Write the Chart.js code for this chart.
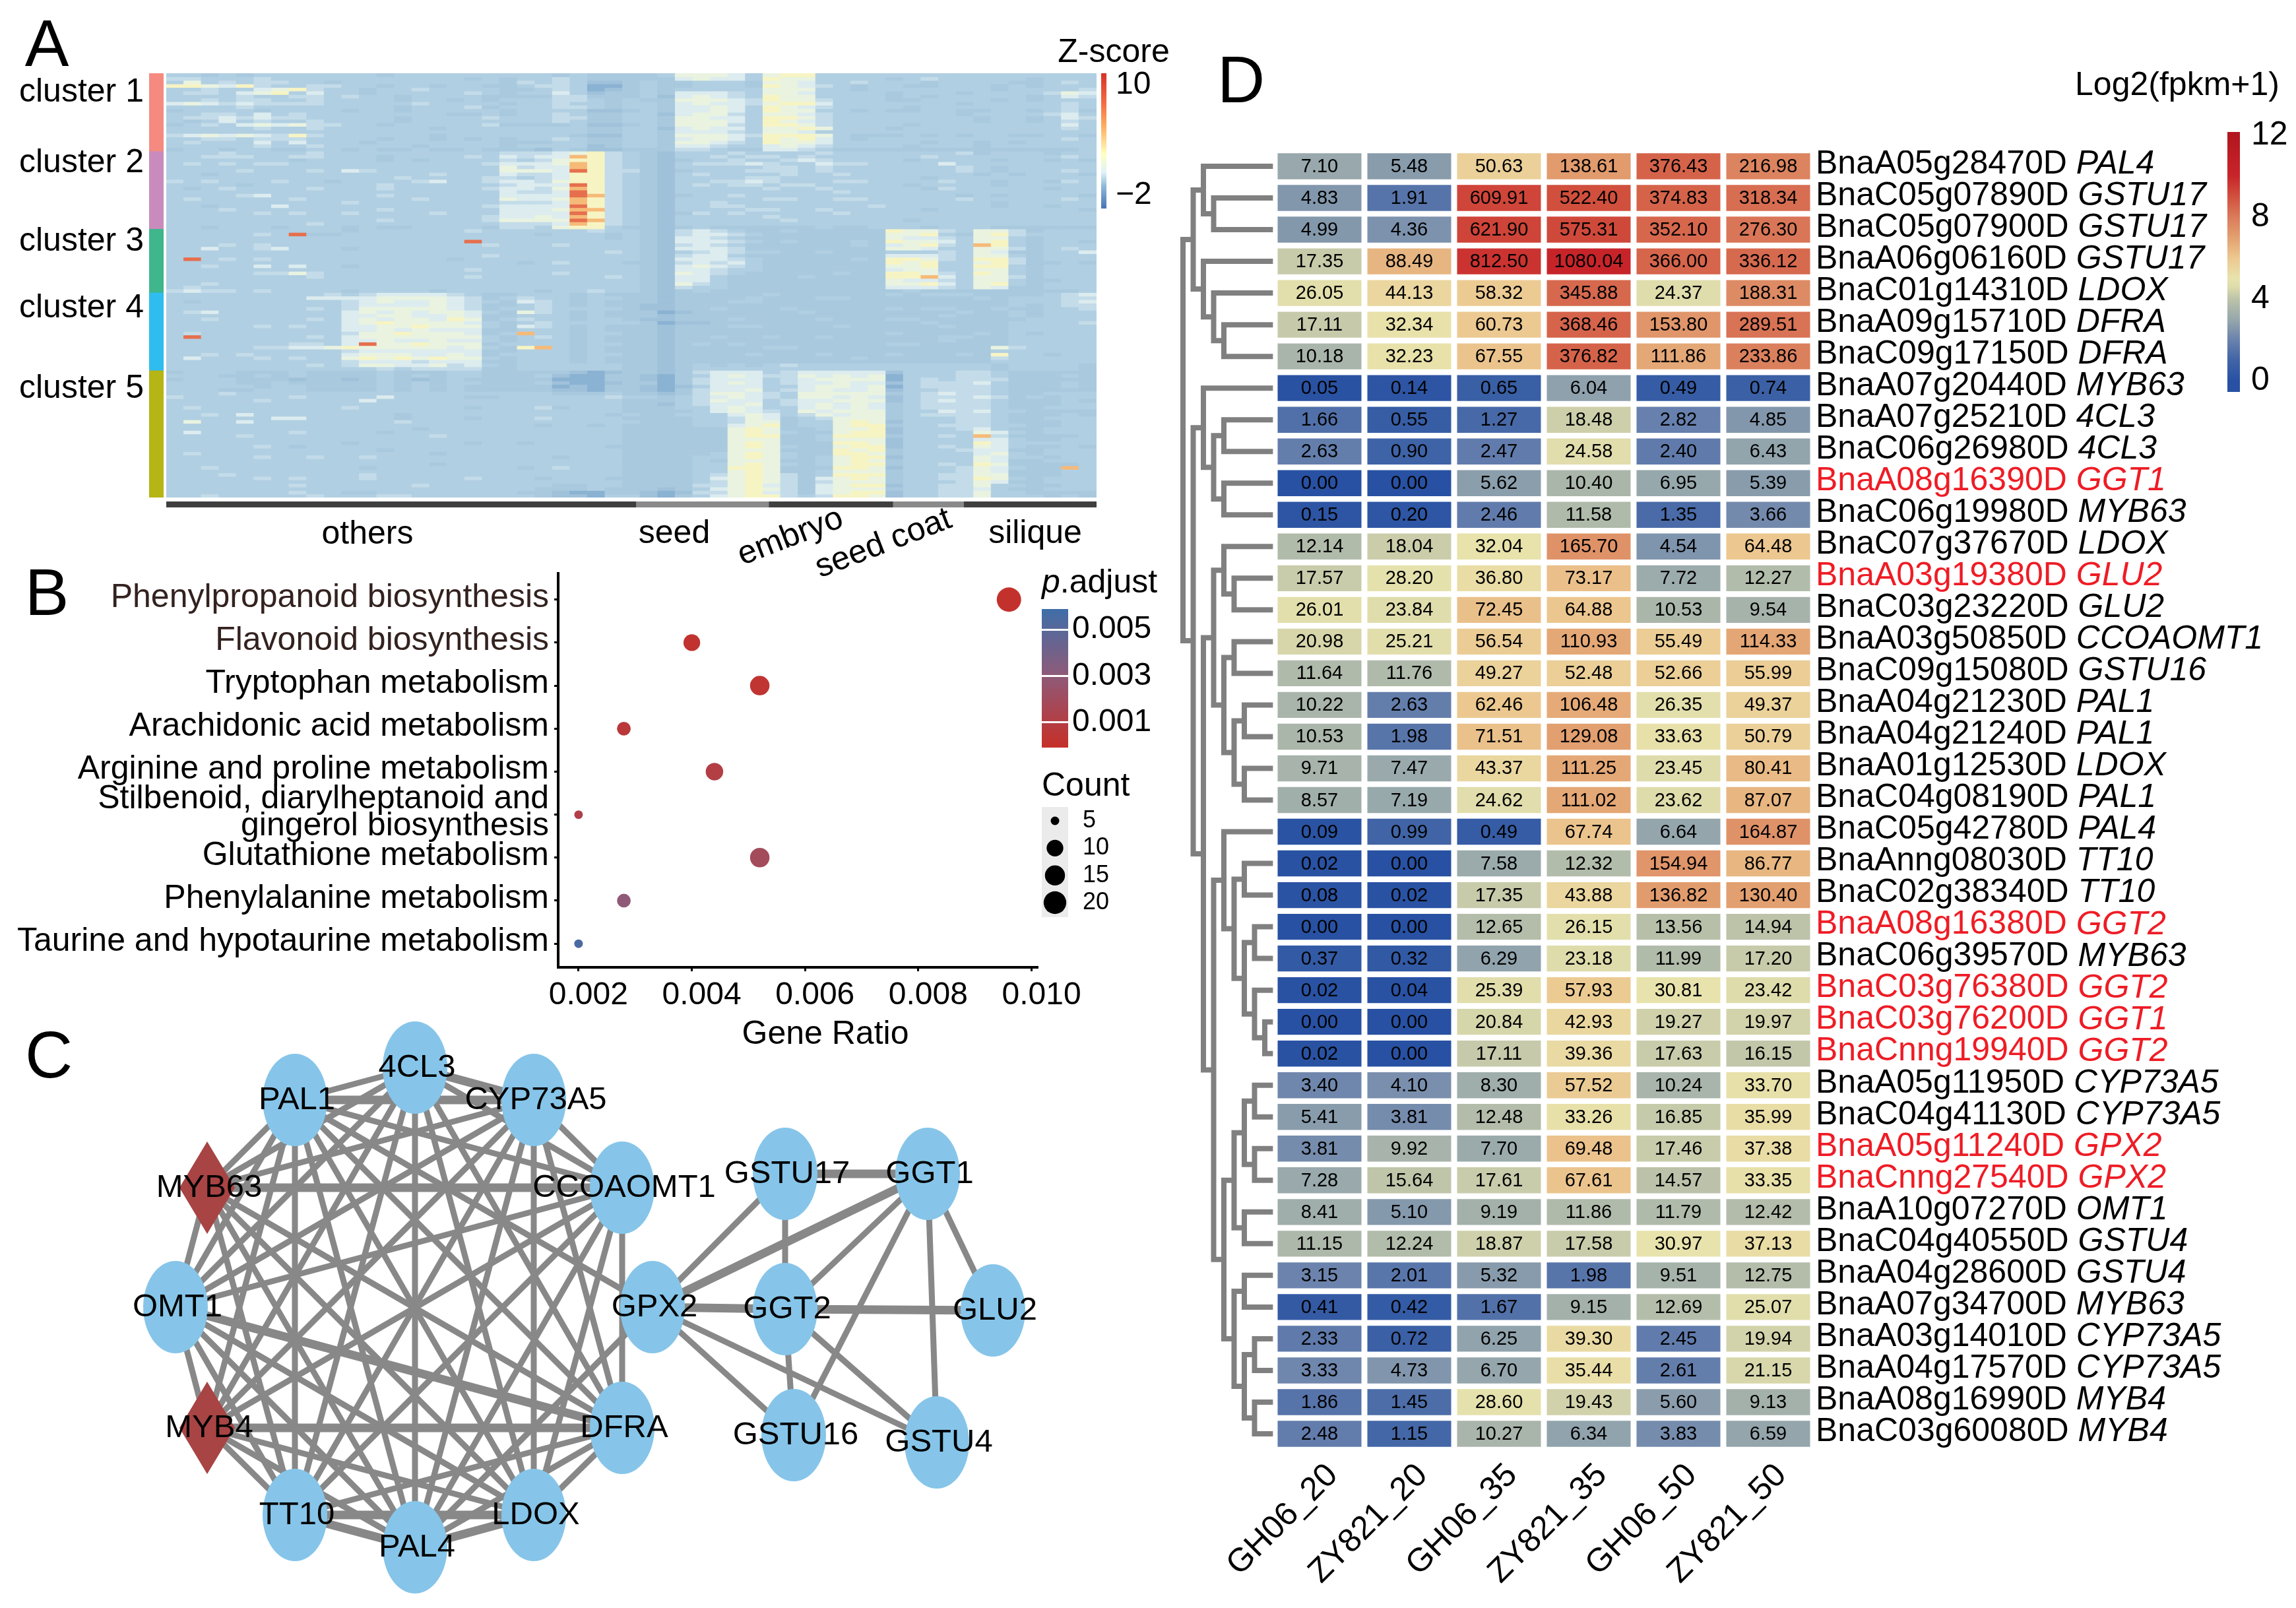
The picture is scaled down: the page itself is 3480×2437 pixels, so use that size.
<!DOCTYPE html>
<html>
<head>
<meta charset="utf-8">
<script src="https://cdn.jsdelivr.net/npm/chart.js@4"></script>
<style>
html, body { margin: 0; background: #fff; }
#page { position: relative; width: 3480px; height: 2437px; overflow: hidden; background: #fff; }
#page canvas { position: absolute; }
.lbl { position: absolute; font-family: "Liberation Sans", Arial, sans-serif; color: #000; white-space: nowrap; line-height: 1; }
</style>
</head>
<body>
<div id="page"></div>
<script>
// ---- panel A: one string per row band, one digit per column band (0 dark blue .. 9 red)
const heatRows = [
"3323233333 3323333333 3323222236 6653677333 3333333333 333",
"4433343333 3333333232 3343222225 6553766333 3234333332 333",
"3634344332 3333333332 4343112322 3332665334 3332333322 343",
"7765743344 3323323322 3443002322 3332765432 3322333232 333",
"3343356743 3233433332 2343012323 3333666332 3333333233 334",
"3443567353 3233333432 3353122325 5543665333 3233323333 465",
"3333433443 4332333322 2244222315 6543766333 3232333332 354",
"3343443343 3332332323 3344323226 6654766433 3223333232 333",
"5654544443 3333433332 3343323325 6554677533 3333323333 343",
"3333433333 3332333423 3344323325 5653765433 3323333333 343",
"2333323333 2332333332 3333112325 5653766332 3223322332 342",
"3344353433 3333332232 3343223315 6643665433 3333323333 453",
"3445454433 3332333343 3344223326 6553776433 3333332332 354",
"3235343343 3332333333 3343223326 6653765433 3333332332 343",
"2343565644 3323333342 2223112326 6643776433 3323333333 353",
"3333343343 3333323333 3333223315 6553667633 3233333333 343",
"3333333333 3333333333 3333223325 5543665333 3333333333 333",
"4565654743 3333323333 3332113326 6654777632 2232323322 332",
"3344344433 3323323232 3343223325 6653767532 3333333333 343",
"3433353533 3233333332 2233223326 6543766533 3332332323 333",
"3333343343 3333233332 3333123325 5433565433 3323332333 333",
"2332332233 2322322322 2132112224 4322554322 2222222222 223",
"3334333343 3333333334 4456743213 3343333433 3333342333 233",
"3344433443 3323333435 4558743213 3434434333 3334333333 343",
"3333333233 3323233334 3467743212 3343345433 3323333233 232",
"3434344333 3333333345 5568743213 4445433544 3333533333 333",
"3333333333 3333333336 4558743213 3333443433 3333343233 333",
"3333433343 5433333336 6659744212 3334443433 3333343233 343",
"3323333333 3333343335 4457743213 4333343343 3333332323 332",
"3333333333 3334333344 3457743213 3334433333 3332333333 333",
"4343334332 3333453345 5467743213 3445433344 3333433233 243",
"3333233333 3343333334 5559743213 4344344333 3323333233 333",
"3234333343 3343333345 5468743213 3333433433 3332433333 233",
"3333333333 3333333335 4459743213 3333333343 3333333333 333",
"3333453333 3343333335 5559843212 3343333333 3333323233 332",
"3433333433 3333433336 5568743213 3333443344 3333343333 343",
"3333333333 4333333334 4458743213 3433333333 3333333233 333",
"3323335333 3333333345 5559743213 3443333333 4333333233 233",
"3334333333 3343333335 5568843213 3334433433 3332333333 332",
"3333343433 4333343335 5559743212 4343333343 3333333333 333",
"3333333333 3333333345 5658743213 3333433333 3333333333 333",
"3333333333 3343333346 6669843213 3333343333 3323333333 333",
"3333333343 3333333334 4458743213 3333333333 3333333333 333",
"3323332333 2322333324 4367732212 3222222322 3332333222 222",
"3333333333 2333333433 3333433214 5432232222 2766436642 333",
"3333343922 3333333333 3233323214 5543222222 2667326743 333",
"3333333333 3333333333 3333323215 5432222222 2655436632 333",
"3333333333 3333333933 3333333215 5543232223 2766536732 332",
"3334343333 3333333343 3343333214 5432222223 2567438732 333",
"3353345333 2333333333 3333333215 5542222222 2665336642 343",
"3333333333 3333333333 3333343213 4543322322 2333436522 335",
"3333333333 3333333343 3333333214 5532222222 2555436632 333",
"3934343333 3333332333 3333333215 5543222223 2776437742 333",
"3333333333 3333333333 2343332214 5453222222 2767336742 232",
"3343353533 2333333333 3333333215 6543222222 2667337732 333",
"3333333333 3333333433 3333333215 5433222222 2566336632 333",
"3333344643 3333333333 3343333216 5432222232 2776437632 333",
"3333333343 3333333433 3333343215 5322223222 2778536642 333",
"3333333333 3333333333 3333333215 5322222222 2655436632 233",
"3343333333 3333333333 3333333216 4322222222 2667536732 333",
"3433333333 3333333333 3333333214 3322222222 2555436522 333",
"4544343333 2333323333 3233433212 3222222222 2232222222 223",
"3333333334 3455554322 3332322212 2222322222 2323332222 345",
"3333333355 5566665423 4332332212 2223222332 2222223233 344",
"3233333333 4565565432 5432322212 2233222222 2222222233 345",
"3333333333 4555565422 3432322112 2222222222 2222222232 344",
"3333333343 4666665423 3433332112 2322232222 2323322322 334",
"3453333333 5656566532 6432322201 2222223222 2222232232 333",
"3333333333 5566556522 3332322212 2222222222 2222322232 333",
"3343333343 5656657623 4332332112 2232222322 2332222223 333",
"3333333333 5676666532 3433333201 1222222222 2223222233 334",
"3333343433 5566766632 5432322212 2233222232 2222322233 333",
"3333333333 5565655522 3332322212 2222222222 2222222233 333",
"3433333333 4667666523 8332332212 2222222222 2322223232 333",
"3933333343 5666666632 3432322212 2322322322 2222332233 333",
"3333333333 5565565532 3332322212 2222222222 2222322233 333",
"3333333443 5966766623 3332332212 3232222222 2332222233 333",
"3333344556 7666665632 7832322212 2222332222 2222222643 333",
"3333333333 4555555522 3332322212 2222222222 2222222333 333",
"3343433333 5666556523 3332332212 2223222322 2322232733 233",
"3533343433 6767676632 3332322212 2222222223 2222222433 333",
"3333333333 4555455522 3332322212 2222222222 2222222333 333",
"3333333343 4665564532 3333332212 3232343333 3333333233 332",
"3333333333 3343444422 3333332212 3333333333 3333333233 332",
"2333222322 2232223322 2221012212 4555345555 5133344322 222",
"3332232322 2232323322 2310022102 3565446565 6033344322 232",
"2333222122 1232123222 2200022102 4555345666 6034344422 222",
"3333223222 2232323322 2310012202 4565345565 5134445322 232",
"3333323322 2232323222 2201022101 3555335665 6034444322 232",
"3332233322 2232323222 2211022102 4556345655 6133444322 222",
"3334333333 3333333333 3322232212 4665436666 6234544322 333",
"4333333433 3353333223 3333343323 4565436656 5134445423 233",
"3333343333 3533333333 3333332223 4655345566 6134544322 232",
"3333333333 3333333333 3333332213 4556345656 5234444322 233",
"3433333333 4333333233 3423332223 3565335656 5234444322 333",
"3333333333 3333333333 3333332222 3565436566 6233545332 222",
"3343533333 3332333333 3333323223 3356534656 6234444322 232",
"3333335533 3332333233 3433332222 3346523466 6233344322 333",
"3633533333 3334333333 3333333222 3346623367 6133344322 233",
"3333333333 3333333333 3233232222 3356723367 7233444332 233",
"3333333333 3333233333 3333332222 2267622366 7133345322 333",
"3533333433 3323333333 3333332222 2267632267 7133336532 333",
"3333433333 3333343333 3333332222 2267722377 7233438422 223",
"3333333333 3333333333 3333332222 2266622366 6133335532 233",
"3333333333 2333333233 2333332222 2267622277 6133337533 333",
"3333343233 3333333333 3333322222 2267632267 7133436532 232",
"3333333333 3323333333 3333332222 2266622276 7233345522 333",
"3433333333 3333323333 3333332222 2367632277 6233335632 333",
"3333343343 3433333333 3323332222 3367632367 7133336533 233",
"3333333333 3333333333 3333332222 3266622367 6233336522 333",
"3333333333 3333323333 3333332222 3367632367 7233437622 223",
"3343333333 3233333333 2343332222 3377622277 6133346532 283",
"3333333333 3333333333 3333332222 3367622366 6233346522 233",
"3334333333 3433333333 3333332222 3467642377 7233446622 233",
"3333343433 3433333433 3233322222 3567642567 6233447632 333",
"3333333333 3333333333 3333332222 3467642466 6233346522 333",
"3333333433 3333433333 3322332222 4467542567 7133446332 233",
"3333333333 3333333333 3222322212 3567642566 6233445322 333",
"3333333433 2233333333 2210022101 4467542567 7133446332 222",
"3343333343 3344333333 3211033102 3567743477 6133446333 232"
].map(r => r.replace(/ /g, ""));
const heatColors = ["#8ab2d3", "#a0c1da", "#a9c9de", "#b1cfe2", "#c4dce9", "#dcecef", "#e9f3e0", "#f7f4c4", "#f6ba78", "#e66f4d"];
const clusterNames = ["cluster 1", "cluster 2", "cluster 3", "cluster 4", "cluster 5"];
const clusterSizes = [22, 22, 18, 22, 36];
const clusterColors = ["#f58b80", "#c98bbd", "#3fb68b", "#2fbcee", "#b5b515"];
const tissueNames = ["others", "seed", "embryo", "seed coat", "silique"];
const tissueSizes = [53, 15, 14, 8, 15];
const tissueColors = ["#3f3f3f", "#8a8a8a", "#3f3f3f", "#8a8a8a", "#3f3f3f"];

// ---- panel B
const pathways = ["Phenylpropanoid biosynthesis", "Flavonoid biosynthesis", "Tryptophan metabolism",
  "Arachidonic acid metabolism", "Arginine and proline metabolism",
  ["Stilbenoid, diarylheptanoid and", "gingerol biosynthesis"], "Glutathione metabolism",
  "Phenylalanine metabolism", "Taurine and hypotaurine metabolism"];
const geneRatio = [0.0096, 0.0040, 0.0052, 0.0028, 0.0044, 0.0020, 0.0052, 0.0028, 0.0020];
const geneCount = [24, 10, 14, 7, 11, 5, 14, 7, 5];
const pAdjust = [0.0001, 0.0002, 0.0003, 0.0006, 0.0010, 0.0011, 0.0019, 0.0030, 0.0055];
const ratioTicks = [0.002, 0.004, 0.006, 0.008, 0.010];
const pTicks = [0.001, 0.003, 0.005];
const countTicks = [5, 10, 15, 20];

// ---- panel C
const nodeNames = ["4CL3", "PAL1", "CYP73A5", "MYB63", "CCOAOMT1", "OMT1", "GPX2", "MYB4", "DFRA", "TT10", "LDOX", "PAL4",
  "GSTU17", "GGT1", "GGT2", "GLU2", "GSTU16", "GSTU4"];
const nodeX = [629, 447, 809, 314, 943, 266, 989, 314, 943, 447, 809, 629, 1190, 1406, 1190, 1505, 1203, 1420];
const nodeY = [1618, 1667, 1667, 1800, 1800, 1981, 1981, 2164, 2164, 2296, 2296, 2345, 1779, 1779, 1984, 1986, 2175, 2186];
const tfNodes = ["MYB63", "MYB4"];
const ringNodes = nodeNames.slice(0, 12);
const ringMissing = ["OMT1-GPX2", "MYB63-GPX2", "GPX2-MYB4", "4CL3-GPX2", "CYP73A5-GPX2", "CCOAOMT1-GPX2", "GPX2-DFRA", "GPX2-TT10", "GPX2-LDOX", "MYB63-MYB4"];
const sideEdges = ["GPX2-GSTU17", "GSTU17-GGT2", "GGT1-GGT2", "GGT1-GSTU16", "GGT1-GSTU4", "GGT1-GLU2", "GGT2-GSTU16", "GGT2-GSTU4", "GPX2-GSTU16", "GPX2-GSTU4", "GPX2-GGT1", "GPX2-GGT2", "GGT2-GLU2", "GSTU17-GGT1"];
const thickEdges = ["MYB63-CCOAOMT1", "PAL1-CYP73A5", "MYB4-DFRA", "TT10-LDOX", "OMT1-CCOAOMT1", "OMT1-DFRA", "LDOX-PAL4", "TT10-PAL4", "PAL1-4CL3", "4CL3-CYP73A5", "GSTU17-GGT1", "GPX2-GGT2", "GGT2-GLU2", "GPX2-GGT1"];

// ---- panel D
const samples = ["GH06_20", "ZY821_20", "GH06_35", "ZY821_35", "GH06_50", "ZY821_50"];
const geneIds = ["BnaA05g28470D", "BnaC05g07890D", "BnaC05g07900D", "BnaA06g06160D", "BnaC01g14310D", "BnaA09g15710D", "BnaC09g17150D", "BnaA07g20440D", "BnaA07g25210D", "BnaC06g26980D", "BnaA08g16390D", "BnaC06g19980D", "BnaC07g37670D", "BnaA03g19380D", "BnaC03g23220D", "BnaA03g50850D", "BnaC09g15080D", "BnaA04g21230D", "BnaA04g21240D", "BnaA01g12530D", "BnaC04g08190D", "BnaC05g42780D", "BnaAnng08030D", "BnaC02g38340D", "BnaA08g16380D", "BnaC06g39570D", "BnaC03g76380D", "BnaC03g76200D", "BnaCnng19940D", "BnaA05g11950D", "BnaC04g41130D", "BnaA05g11240D", "BnaCnng27540D", "BnaA10g07270D", "BnaC04g40550D", "BnaA04g28600D", "BnaA07g34700D", "BnaA03g14010D", "BnaA04g17570D", "BnaA08g16990D", "BnaC03g60080D"];
const geneNames = ["PAL4", "GSTU17", "GSTU17", "GSTU17", "LDOX", "DFRA", "DFRA", "MYB63", "4CL3", "4CL3", "GGT1", "MYB63", "LDOX", "GLU2", "GLU2", "CCOAOMT1", "GSTU16", "PAL1", "PAL1", "LDOX", "PAL1", "PAL4", "TT10", "TT10", "GGT2", "MYB63", "GGT2", "GGT1", "GGT2", "CYP73A5", "CYP73A5", "GPX2", "GPX2", "OMT1", "GSTU4", "GSTU4", "MYB63", "CYP73A5", "CYP73A5", "MYB4", "MYB4"];
const redGenes = ["BnaA08g16390D", "BnaA03g19380D", "BnaA08g16380D", "BnaC03g76380D", "BnaC03g76200D", "BnaCnng19940D", "BnaA05g11240D", "BnaCnng27540D"];
const GH06_20 = [7.10, 4.83, 4.99, 17.35, 26.05, 17.11, 10.18, 0.05, 1.66, 2.63, 0.00, 0.15, 12.14, 17.57, 26.01, 20.98, 11.64, 10.22, 10.53, 9.71, 8.57, 0.09, 0.02, 0.08, 0.00, 0.37, 0.02, 0.00, 0.02, 3.40, 5.41, 3.81, 7.28, 8.41, 11.15, 3.15, 0.41, 2.33, 3.33, 1.86, 2.48];
const ZY821_20 = [5.48, 1.91, 4.36, 88.49, 44.13, 32.34, 32.23, 0.14, 0.55, 0.90, 0.00, 0.20, 18.04, 28.20, 23.84, 25.21, 11.76, 2.63, 1.98, 7.47, 7.19, 0.99, 0.00, 0.02, 0.00, 0.32, 0.04, 0.00, 0.00, 4.10, 3.81, 9.92, 15.64, 5.10, 12.24, 2.01, 0.42, 0.72, 4.73, 1.45, 1.15];
const GH06_35 = [50.63, 609.91, 621.90, 812.50, 58.32, 60.73, 67.55, 0.65, 1.27, 2.47, 5.62, 2.46, 32.04, 36.80, 72.45, 56.54, 49.27, 62.46, 71.51, 43.37, 24.62, 0.49, 7.58, 17.35, 12.65, 6.29, 25.39, 20.84, 17.11, 8.30, 12.48, 7.70, 17.61, 9.19, 18.87, 5.32, 1.67, 6.25, 6.70, 28.60, 10.27];
const ZY821_35 = [138.61, 522.40, 575.31, 1080.04, 345.88, 368.46, 376.82, 6.04, 18.48, 24.58, 10.40, 11.58, 165.70, 73.17, 64.88, 110.93, 52.48, 106.48, 129.08, 111.25, 111.02, 67.74, 12.32, 43.88, 26.15, 23.18, 57.93, 42.93, 39.36, 57.52, 33.26, 69.48, 67.61, 11.86, 17.58, 1.98, 9.15, 39.30, 35.44, 19.43, 6.34];
const GH06_50 = [376.43, 374.83, 352.10, 366.00, 24.37, 153.80, 111.86, 0.49, 2.82, 2.40, 6.95, 1.35, 4.54, 7.72, 10.53, 55.49, 52.66, 26.35, 33.63, 23.45, 23.62, 6.64, 154.94, 136.82, 13.56, 11.99, 30.81, 19.27, 17.63, 10.24, 16.85, 17.46, 14.57, 11.79, 30.97, 9.51, 12.69, 2.45, 2.61, 5.60, 3.83];
const ZY821_50 = [216.98, 318.34, 276.30, 336.12, 188.31, 289.51, 233.86, 0.74, 4.85, 6.43, 5.39, 3.66, 64.48, 12.27, 9.54, 114.33, 55.99, 49.37, 50.79, 80.41, 87.07, 164.87, 86.77, 130.40, 14.94, 17.20, 23.42, 19.97, 16.15, 33.70, 35.99, 37.38, 33.35, 12.42, 37.13, 12.75, 25.07, 19.94, 21.15, 9.13, 6.59];
const columns = [GH06_20, ZY821_20, GH06_35, ZY821_35, GH06_50, ZY821_50];
// nested merges: [depth, left, right], a plain number is a gene row
const dendroTree = [0,
  [1, [2, 0, [3, 1, 2]], [2, 3, [3, 4, [4, 5, 6]]]],
  [1, [2, 7, [3, [4, 8, 9], [4, 10, 11]]],
      [2, [3, [4, 12, [5, 13, 14]], [4, [5, 15, 16], [5, [6, 17, 18], [6, 19, 20]]]],
          [3, [4, 21, [5, [6, 22, 23], [6, [7, 24, 25], [7, 26, [8, 27, 28]]]]],
              [4, [5, [6, [7, 29, 30], [7, 31, 32]], [6, 33, 34]],
                  [5, [6, 35, 36], [6, [7, 37, 38], [7, 39, 40]]]]]]]];
const leafDepth = 8.8;

// colour ramps as [value, colour]
const fpkmStops = [[0, "#2851a3"], [1, "#4064a6"], [2, "#6a82ad"], [3, "#97a8ac"], [4, "#bcc3a9"], [4.6, "#dfdcac"], [5, "#e8e3ac"], [6, "#ecc890"], [7, "#e2a070"], [8, "#da7b5a"], [9, "#d1503e"], [10, "#c8252a"], [12, "#b2161f"]];
const zStops = [[-3.45, "#4575b4"], [-1, "#8fb9d8"], [0.5, "#e0f3f8"], [2.5, "#ffffbf"], [5.5, "#fdae61"], [8, "#f46d43"], [11.3, "#d73027"]];
const pStops = [[0, "#c5302a"], [0.003, "#8f5a78"], [0.0059, "#3f6ea8"]];

const FONT = '"Liberation Sans", Arial, sans-serif';
const page = document.getElementById("page");
Chart.defaults.font.family = FONT;
Chart.defaults.color = "#000";
Chart.defaults.animation = false;
Chart.defaults.responsive = false;
Chart.defaults.devicePixelRatio = 1;
Chart.defaults.layout.autoPadding = false;
Chart.defaults.plugins.legend.display = false;
Chart.defaults.plugins.tooltip.enabled = false;

function hex(c) { return [1, 3, 5].map(i => parseInt(c.substr(i, 2), 16)); }
function rampColor(stops, v) {
  if (v <= stops[0][0]) return stops[0][1];
  for (let i = 1; i < stops.length; i++) {
    if (v <= stops[i][0]) {
      const t = (v - stops[i - 1][0]) / (stops[i][0] - stops[i - 1][0]);
      const a = hex(stops[i - 1][1]), b = hex(stops[i][1]);
      return "rgb(" + a.map((x, k) => Math.round(x + (b[k] - x) * t)).join(",") + ")";
    }
  }
  return stops[stops.length - 1][1];
}
function makeCanvas(left, top, w, h) {
  const c = document.createElement("canvas");
  c.width = w; c.height = h;
  c.style.left = left + "px"; c.style.top = top + "px";
  c.style.width = w + "px"; c.style.height = h + "px";
  page.appendChild(c);
  return c;
}
function addText(html, x, y, o) {
  o = o || {};
  const d = document.createElement("div");
  d.className = "lbl";
  d.innerHTML = html;
  d.style.left = x + "px"; d.style.top = y + "px";
  d.style.fontSize = (o.size || 50) + "px";
  const shift = o.left ? "translate(0,-50%)" : "translate(-50%,-50%)";
  d.style.transform = shift + (o.rot ? " rotate(" + o.rot + "deg)" : "");
  page.appendChild(d);
}
function noPad(s) { s.paddingLeft = 0; s.paddingRight = 0; s.paddingTop = 0; s.paddingBottom = 0; }

// ---- A heatmap
new Chart(makeCanvas(252, 111, 1410, 643), {
  type: "bar",
  data: {
    labels: heatRows[0].split(""),
    datasets: heatRows.map((row, r) => ({
      data: row.split("").map(() => [r, r + 1]),
      backgroundColor: row.split("").map(c => heatColors[+c]),
      barPercentage: 1, categoryPercentage: 1, inflateAmount: 0.6
    }))
  },
  options: {
    scales: {
      x: { display: false, stacked: true },
      y: { display: false, min: 0, max: heatRows.length, reverse: true }
    }
  }
});
new Chart(makeCanvas(226, 111, 22, 643), {
  type: "bar",
  data: {
    labels: ["cluster"],
    datasets: clusterSizes.map((n, i) => ({ label: clusterNames[i], data: [n], backgroundColor: clusterColors[i], barPercentage: 1, categoryPercentage: 1 }))
  },
  options: {
    scales: {
      x: { display: false, stacked: true },
      y: { display: false, stacked: true, min: 0, max: heatRows.length, reverse: true }
    }
  }
});
new Chart(makeCanvas(252, 760, 1410, 9), {
  type: "bar",
  data: {
    labels: ["tissue"],
    datasets: tissueSizes.map((n, i) => ({ label: tissueNames[i], data: [n], backgroundColor: tissueColors[i], barPercentage: 1, categoryPercentage: 1 }))
  },
  options: {
    indexAxis: "y",
    scales: {
      x: { display: false, stacked: true, min: 0, max: 105 },
      y: { display: false, stacked: true }
    }
  }
});
[137, 244, 363, 464, 586].forEach((y, i) => addText(clusterNames[i], 29, y, { left: true }));
addText(tissueNames[0], 557, 807);
addText(tissueNames[1], 1022, 806);
addText(tissueNames[2], 1197, 811, { rot: -21 });
addText(tissueNames[3], 1338, 821, { rot: -21 });
addText(tissueNames[4], 1569, 806);
addText("Z-score", 1688, 77);

// gradient legend bar through a y axis of its own
function colorBar(left, top, w, h, labelW, min, max, ticks, stops, o) {
  o = o || {};
  const pad = 40;
  new Chart(makeCanvas(left, top - pad, w + labelW, h + pad * 2), {
    type: "bar",
    data: {
      labels: ["scale"],
      datasets: [{
        data: [[min, max]], barPercentage: 1, categoryPercentage: 1, inflateAmount: 0,
        backgroundColor(ctx) {
          const a = ctx.chart.chartArea;
          if (!a) return "#fff";
          const g = ctx.chart.ctx.createLinearGradient(0, a.bottom, 0, a.top);
          stops.forEach(s => g.addColorStop(Math.min(1, Math.max(0, (s[0] - min) / (max - min))), s[1]));
          return g;
        }
      }]
    },
    options: {
      layout: { padding: { top: pad, bottom: pad } },
      scales: {
        x: { display: false },
        y: {
          position: "right", min, max,
          afterBuildTicks(s) { s.ticks = ticks.map(v => ({ value: v })); },
          afterFit(s) { s.width = labelW; noPad(s); },
          border: { display: false },
          grid: o.grid || { display: false },
          ticks: {
            font: { size: o.size || 48 }, padding: o.padding || 6, autoSkip: false,
            callback: o.format || (v => String(v))
          }
        }
      }
    }
  });
}
colorBar(1669, 111, 8, 205, 70, -3.45, 11.3, [10, -2], zStops, { format: v => v < 0 ? "\u2212" + Math.abs(v) : String(v) });

// ---- B dot plot
function dotRadius(c) { return 6.5 + 12 * Math.sqrt((c - 5) / 19); }
new Chart(makeCanvas(0, 860, 1660, 740), {
  type: "bubble",
  data: {
    datasets: [{
      data: geneRatio.map((g, i) => ({ x: g, y: i, r: dotRadius(geneCount[i]) })),
      backgroundColor: pAdjust.map(p => rampColor(pStops, p)),
      borderWidth: 0
    }]
  },
  options: {
    layout: { padding: { top: 9, right: 87 } },
    scales: {
      x: {
        min: 0.00164, max: 0.01011,
        afterBuildTicks(s) { s.ticks = ratioTicks.map(v => ({ value: v })); },
        afterFit(s) { s.height = 134; noPad(s); },
        border: { color: "#000", width: 4 },
        grid: { drawOnChartArea: false, tickLength: 6, tickColor: "#000", tickWidth: 3 },
        ticks: { font: { size: 48 }, padding: 8, labelOffset: 15, maxRotation: 0, autoSkip: false, callback: v => v.toFixed(3) }
      },
      y: {
        reverse: true, min: -0.61, max: 8.55,
        afterBuildTicks(s) { s.ticks = pathways.map((p, i) => ({ value: i })); },
        afterFit(s) { s.width = 846; noPad(s); },
        border: { color: "#000", width: 4 },
        grid: { drawOnChartArea: false, tickLength: 6, tickColor: "#000", tickWidth: 3 },
        ticks: {
          font: { size: 50, lineHeight: 0.82 }, padding: 8, labelOffset: -3, autoSkip: false,
          color: c => c.index < 2 ? "#33221f" : "#000",
          callback: (v, i) => pathways[i]
        }
      }
    }
  }
});
addText("Gene Ratio", 1251, 1565);
addText("<i>p</i>.adjust", 1579, 881, { left: true });
addText("Count", 1579, 1189, { left: true });
colorBar(1579, 923, 40, 210, 150, -0.00008, 0.00588, pTicks, pStops, {
  format: v => v.toFixed(3), padding: 6,
  grid: { drawTicks: false, z: 1, color: "#fff", lineWidth: 3, borderDash: [8, 24] }
});
new Chart(makeCanvas(1579, 1223, 110, 167), {
  type: "bubble",
  data: {
    datasets: [{
      data: countTicks.map(c => ({ x: 0, y: c, r: dotRadius(c) })),
      backgroundColor: "#000", borderWidth: 0
    }]
  },
  options: {
    scales: {
      x: { display: false, min: -1, max: 1 },
      y: {
        position: "right", reverse: true, min: 2.46, max: 22.66,
        afterBuildTicks(s) { s.ticks = countTicks.map(v => ({ value: v })); },
        afterFit(s) { s.width = 70; noPad(s); },
        border: { display: false }, grid: { display: false },
        ticks: { font: { size: 36 }, padding: 14, autoSkip: false, callback: v => String(v) }
      }
    }
  },
  plugins: [{
    id: "keyBack",
    beforeDraw(chart) {
      const a = chart.chartArea;
      chart.ctx.fillStyle = "#ebebeb";
      chart.ctx.fillRect(a.left, a.top, a.right - a.left, a.bottom - a.top);
    }
  }]
});

// ---- C network
function nodeImage(draw) {
  const c = document.createElement("canvas");
  c.width = 100; c.height = 142;
  draw(c.getContext("2d"));
  return c;
}
const ellipseImg = nodeImage(g => {
  g.fillStyle = "#86c5e9";
  g.beginPath(); g.ellipse(50, 71, 49, 70, 0, 0, Math.PI * 2); g.fill();
});
const diamondImg = nodeImage(g => {
  g.fillStyle = "#a84444";
  g.beginPath(); g.moveTo(50, 1); g.lineTo(92, 71); g.lineTo(50, 141); g.lineTo(8, 71); g.closePath(); g.fill();
});
const edgeList = sideEdges.slice();
ringNodes.forEach((a, i) => ringNodes.slice(i + 1).forEach(b => {
  const key = a + "-" + b;
  if (!ringMissing.includes(key) && !ringMissing.includes(b + "-" + a)) edgeList.push(key);
}));
function edgeEnd(n) { const i = nodeNames.indexOf(n); return { x: nodeX[i], y: nodeY[i] }; }
new Chart(makeCanvas(200, 1540, 1400, 897), {
  type: "scatter",
  data: {
    datasets: [{
      data: nodeNames.map((n, i) => ({ x: nodeX[i], y: nodeY[i] })),
      pointStyle: nodeNames.map(n => tfNodes.includes(n) ? diamondImg : ellipseImg),
      pointRadius: 50, showLine: false, clip: false
    }].concat(edgeList.map(e => ({
      data: e.split("-").map(edgeEnd),
      showLine: true, pointRadius: 0, borderColor: "#888888",
      borderWidth: thickEdges.includes(e) ? 13 : 9
    })))
  },
  options: {
    scales: {
      x: { display: false, min: 200, max: 1600 },
      y: { display: false, min: 1540, max: 2437, reverse: true }
    }
  },
  plugins: [{
    id: "nodeNames",
    afterDatasetsDraw(chart) {
      const g = chart.ctx;
      g.save();
      g.font = "49px " + FONT;
      g.fillStyle = "#000";
      g.textAlign = "center";
      g.textBaseline = "middle";
      nodeNames.forEach((n, i) => g.fillText(n, chart.scales.x.getPixelForValue(nodeX[i]) + 3, chart.scales.y.getPixelForValue(nodeY[i])));
      g.restore();
    }
  }]
});

// ---- D heatmap with gene labels
new Chart(makeCanvas(1780, 228, 1700, 2209), {
  type: "bar",
  data: {
    labels: samples,
    datasets: geneIds.map((id, r) => ({
      label: id,
      data: columns.map(() => [r + 0.09, r + 0.91]),
      backgroundColor: columns.map(col => rampColor(fpkmStops, Math.log2(col[r] + 1))),
      barPercentage: 0.934, categoryPercentage: 1, inflateAmount: 0
    }))
  },
  options: {
    layout: { padding: { left: 152, right: 732 } },
    scales: {
      x: {
        stacked: true,
        afterFit(s) { s.height = 240; noPad(s); },
        border: { display: false }, grid: { display: false },
        ticks: { font: { size: 50 }, minRotation: 45, maxRotation: 45, padding: 2, labelOffset: 20, autoSkip: false }
      },
      y: { display: false, min: 0, max: geneIds.length, reverse: true }
    }
  },
  plugins: [{
    id: "cellText",
    afterDatasetsDraw(chart) {
      const g = chart.ctx, xs = chart.scales.x, ys = chart.scales.y;
      g.save();
      g.textBaseline = "middle";
      geneIds.forEach((id, r) => {
        const y = ys.getPixelForValue(r + 0.5);
        g.font = "29px " + FONT;
        g.fillStyle = "#000";
        g.textAlign = "center";
        columns.forEach((col, c) => g.fillText(col[r].toFixed(2), xs.getPixelForValue(c), y + 1));
        const lx = chart.chartArea.right + 4;
        g.textAlign = "left";
        g.fillStyle = redGenes.includes(id) ? "#ee1c25" : "#000";
        g.font = "50px " + FONT;
        g.fillText(id + " ", lx, y - 3);
        const w = g.measureText(id + " ").width;
        g.font = "italic 50px " + FONT;
        g.fillText(geneNames[r], lx + w, y - 3);
      });
      g.restore();
    }
  }]
});

// dendrogram, one polyline per merge
function treePos(n) {
  if (typeof n === "number") return { x: leafDepth, y: n + 0.5 };
  const a = treePos(n[1]), b = treePos(n[2]);
  return { x: n[0], y: (a.y + b.y) / 2 };
}
const treeLines = [];
(function walk(n) {
  if (typeof n === "number") return;
  const a = treePos(n[1]), b = treePos(n[2]);
  treeLines.push([a, { x: n[0], y: a.y }, { x: n[0], y: b.y }, b]);
  walk(n[1]); walk(n[2]);
})(dendroTree);
new Chart(makeCanvas(1780, 228, 152, 1969), {
  type: "scatter",
  data: {
    datasets: treeLines.map(line => ({
      data: line, showLine: true, pointRadius: 0, borderColor: "#808080", borderWidth: 8,
      borderCapStyle: "butt", borderJoinStyle: "miter"
    }))
  },
  options: {
    scales: {
      x: { display: false, min: -0.84, max: 8.97 },
      y: { display: false, min: 0, max: geneIds.length, reverse: true }
    }
  }
});

colorBar(3376, 200, 19, 394, 90, -0.55, 12.16, [12, 8, 4, 0], fpkmStops, { padding: 9, size: 50 });
addText("Log2(fpkm+1)", 3300, 127, { size: 50 });

addText("A", 71, 65, { size: 100 });
addText("B", 71, 897, { size: 100 });
addText("C", 74, 1598, { size: 100 });
addText("D", 1881, 120, { size: 100 });
</script>
</body>
</html>
